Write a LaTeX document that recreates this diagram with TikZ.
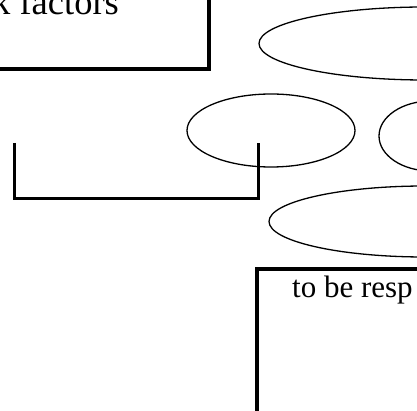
\documentclass[tikz,border=0pt]{standalone}
\usepackage{fontspec}
\setmainfont{Liberation Serif}
\usetikzlibrary{shapes.geometric}
\begin{document}
\begin{tikzpicture}[x=1pt,y=-1pt,
  heavy/.style={draw=black,line width=3.4pt},
  bracketline/.style={draw=black,line width=3pt},
  oval/.style={ellipse,draw=black,line width=1.3pt,inner sep=0pt},
  label/.style={inner sep=0pt,anchor=base west}]
  \useasboundingbox (0,0) rectangle (417,411);
  \clip (0,0) rectangle (417,411);

  % upper left box and its caption
  \draw[heavy] (-20,-20) rectangle (209,69);
  \node[label,font=\fontsize{36.5}{40}\selectfont] (cap1) at (-8,15) {k factors};

  % ovals
  \node[oval,minimum width=332pt,minimum height=73pt] (o1) at (425,43.5) {};
  \node[oval,minimum width=168pt,minimum height=73pt] (o2) at (271,130.5) {};
  \node[oval,minimum width=104pt,minimum height=70pt] (o3) at (431,136) {};
  \node[oval,minimum width=312pt,minimum height=71pt] (o4) at (425,221.5) {};

  % bracket under the left oval
  \coordinate (blt) at (14,143);
  \coordinate (blb) at (14,199);
  \coordinate (brb) at (258,199);
  \coordinate (brt) at (258,143);
  \draw[bracketline] (blt) -- (blb) -- (brb) -- (brt);

  % lower box and its caption
  \draw[heavy] (257,269) rectangle (440,430);
  \node[label,font=\fontsize{31}{35}\selectfont] (cap2) at (292,298) {to be resp};
\end{tikzpicture}
\end{document}
